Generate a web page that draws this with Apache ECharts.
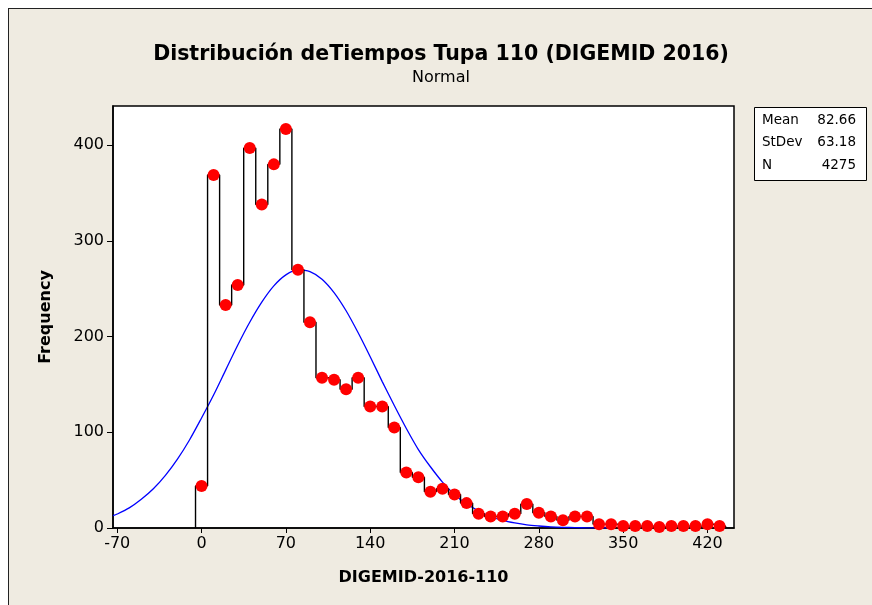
<!DOCTYPE html>
<html>
<head>
<meta charset="utf-8">
<script src="https://cdn.jsdelivr.net/npm/echarts@6/dist/echarts.min.js"></script>
<style>
  html, body { margin: 0; padding: 0; background: #ffffff; }
  #chart {
    position: absolute; left: 8px; top: 8px;
    width: 864px; height: 597px;
    border-left: 1px solid #222; border-top: 1px solid #222;
    background: #efebe1;
  }
</style>
</head>
<body>
<div id="chart"></div>
<script>
// bin midpoints (width 10) and frequencies
var binCenters = [0, 10, 20, 30, 40, 50, 60, 70, 80, 90, 100, 110, 120, 130, 140, 150, 160, 170, 180, 190,
    200, 210, 220, 230, 240, 250, 260, 270, 280, 290, 300, 310, 320, 330, 340, 350, 360, 370, 380, 390,
    400, 410, 420, 430];
var counts = [44, 369, 233, 254, 397, 338, 380, 417, 270, 215, 157, 155, 145, 157, 127, 127, 105, 58, 53, 38,
    41, 35, 26, 15, 12, 12, 15, 25, 16, 12, 8, 12, 12, 4, 4, 2, 2, 2, 1, 2,
    2, 2, 4, 2];
var binWidth = 10;

// fitted normal curve
var curveX = [-73.5, -70, -60, -50, -40, -30, -20, -10, 0, 10, 20, 30, 40, 50, 60, 70, 80, 90, 100,
    110, 120, 130, 140, 150, 160, 170, 180, 190, 200, 210, 220, 230, 240, 250, 260, 270, 280, 290,
    300, 310, 320, 340];
var curveY = [13, 14.6, 21, 30, 41, 55, 72, 92, 115, 139, 165, 191, 215, 236, 253, 264.5, 269.7, 268, 260,
    246, 227, 204, 179, 153, 128, 104, 82, 64, 48, 35, 25, 18, 12, 8, 5.3, 3.3, 2.1, 1.2,
    0.7, 0.4, 0.2, 0.1];

var xTicks = [-70, 0, 70, 140, 210, 280, 350, 420];
var yTicks = [0, 100, 200, 300, 400];

var statNames = ['Mean', 'StDev', 'N'];
var statValues = ['82.66', '63.18', '4275'];

var dom = document.getElementById('chart');
var myChart = echarts.init(dom);

// step outline built from bin edges
var stepData = [[binCenters[0] - binWidth / 2, 0]];
for (var i = 0; i < binCenters.length; i++) {
    stepData.push([binCenters[i] - binWidth / 2, counts[i]]);
}
stepData.push([binCenters[binCenters.length - 1] + binWidth / 2, counts[counts.length - 1]]);
stepData.push([binCenters[binCenters.length - 1] + binWidth / 2, 0]);

var curveData = curveX.map(function (x, k) { return [x, curveY[k]]; });
var dotData = binCenters.map(function (x, k) { return [x, counts[k]]; });

var statTexts = [];
statNames.forEach(function (n, k) {
    statTexts.push({ type: 'text', left: 753, top: 104 + k * 22.5,
        style: { text: n, fill: '#000', font: '13.5px "DejaVu Sans"' } });
    statTexts.push({ type: 'text', right: 864 - 847, top: 104 + k * 22.5,
        style: { text: statValues[k], fill: '#000', font: '13.5px "DejaVu Sans"', align: 'right' } });
});

var font = '"DejaVu Sans", sans-serif';
var option = {
    backgroundColor: '#efebe1',
    animation: false,
    title: {
        text: 'Distribución deTiempos Tupa 110 (DIGEMID 2016)',
        subtext: 'Normal',
        left: 'center',
        top: 30,
        itemGap: 5,
        textStyle: { fontFamily: font, fontWeight: 'bold', fontSize: 20.5, color: '#000' },
        subtextStyle: { fontFamily: font, fontSize: 16, color: '#000' }
    },
    grid: {
        left: 104, top: 97, right: 139, bottom: 78,
        show: true, backgroundColor: '#ffffff', borderColor: '#000', borderWidth: 1.5
    },
    xAxis: {
        type: 'value', min: -73.5, max: 442,
        name: 'DIGEMID-2016-110', nameLocation: 'middle', nameGap: 42,
        nameTextStyle: { fontFamily: font, fontWeight: 'bold', fontSize: 16, color: '#000' },
        axisLine: { show: true, onZero: false, lineStyle: { color: '#000', width: 1.5 } },
        axisTick: { show: true, length: 5, customValues: xTicks, lineStyle: { color: '#000' } },
        axisLabel: { customValues: xTicks, fontFamily: font, fontSize: 16, color: '#000', margin: 8 },
        splitLine: { show: false }
    },
    yAxis: {
        type: 'value', min: 0, max: 441,
        name: 'Frequency', nameLocation: 'middle', nameGap: 59,
        nameTextStyle: { fontFamily: font, fontWeight: 'bold', fontSize: 16, color: '#000' },
        axisLine: { show: true, onZero: false, lineStyle: { color: '#000', width: 1.5 } },
        axisTick: { show: true, length: 6, customValues: yTicks, lineStyle: { color: '#000' } },
        axisLabel: { customValues: yTicks, fontFamily: font, fontSize: 16, color: '#000', margin: 9 },
        splitLine: { show: false }
    },
    graphic: [
        { type: 'rect', left: 745, top: 98, shape: { width: 112, height: 73 },
          style: { fill: '#fff', stroke: '#000', lineWidth: 1 } }
    ].concat(statTexts),
    series: [
        {
            type: 'line', data: curveData, smooth: 0.3, showSymbol: false,
            lineStyle: { color: '#0000ff', width: 1.3 }, z: 2, silent: true
        },
        {
            type: 'line', data: stepData, step: 'end', showSymbol: false,
            lineStyle: { color: '#000', width: 1.4 }, z: 3, silent: true
        },
        {
            type: 'scatter', data: dotData, symbolSize: 12,
            itemStyle: { color: '#ff0000', opacity: 1 }, z: 4
        }
    ]
};
myChart.setOption(option, true);
window.onresize = myChart.resize;
</script>
</body>
</html>
